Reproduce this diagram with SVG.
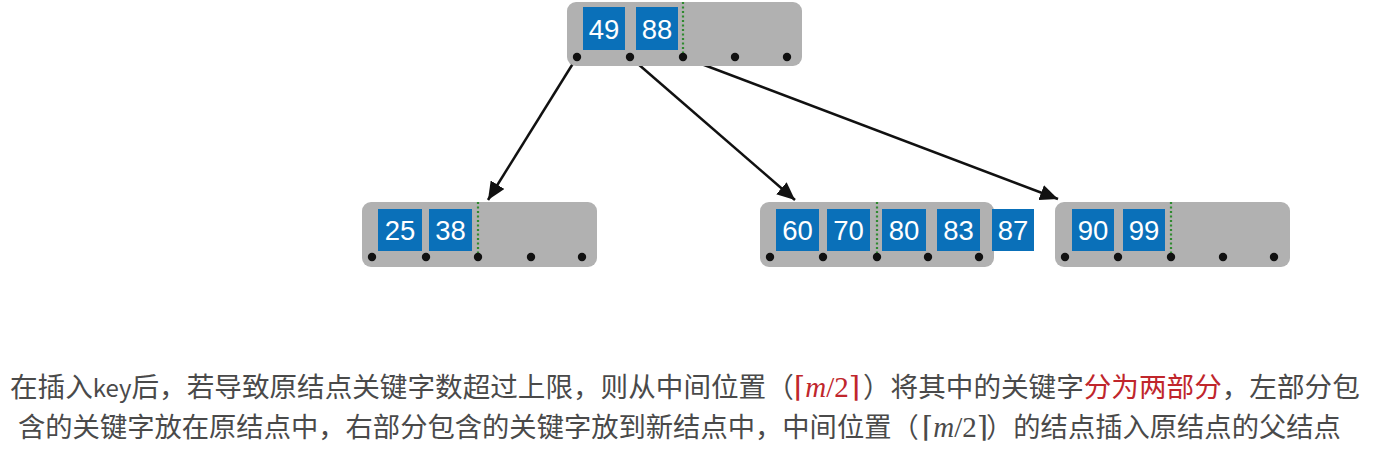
<svg xmlns="http://www.w3.org/2000/svg" width="1376" height="466" viewBox="0 0 1376 466">
<style>
.node{fill:#b1b1b1;}
.key{fill:#0a70b9;}
.num{font-family:"Liberation Sans",Arial,sans-serif;font-size:27.5px;fill:#ffffff;text-anchor:middle;}
.ptr{fill:#111;}
.split{stroke:#2f8a2f;stroke-width:2.2;stroke-dasharray:2 2.5;fill:none;}
.edge{stroke:#111;stroke-width:2.5;fill:none;}
.cap{font-family:"Noto Sans CJK SC","Noto Sans",sans-serif;font-size:27.6px;fill:#4a4a4a;}
.cap2{font-family:"Noto Sans CJK SC","Noto Sans",sans-serif;font-size:27.3px;fill:#4a4a4a;}
.red{fill:#c0262c;}
.math{font-family:"Liberation Serif","DejaVu Serif",serif;font-size:29px;}
</style>
<defs>
<marker id="ah" markerUnits="userSpaceOnUse" markerWidth="20" markerHeight="16" refX="18" refY="8" orient="auto">
<path d="M0,0 L18,8 L0,16 z" fill="#111"/>
</marker>
</defs>

<g id="connectors">
<line class="edge" x1="577" y1="57" x2="488" y2="200" marker-end="url(#ah)"/>
<line class="edge" x1="630" y1="57" x2="795" y2="200" marker-end="url(#ah)"/>
<line class="edge" x1="683" y1="57" x2="1058" y2="199" marker-end="url(#ah)"/>
</g>

<g id="node-root">
<rect class="node" x="567" y="2" width="235" height="64" rx="9"/>
<rect class="key" x="583" y="7" width="42" height="43"/>
<text class="num" x="604" y="39">49</text>
<rect class="key" x="636" y="7" width="42" height="43"/>
<text class="num" x="657" y="39">88</text>
<line class="split" x1="683" y1="2" x2="683" y2="57"/>
<circle class="ptr" cx="577" cy="57" r="4.2"/>
<circle class="ptr" cx="630" cy="57" r="4.2"/>
<circle class="ptr" cx="683" cy="57" r="4.2"/>
<circle class="ptr" cx="735" cy="57" r="4.2"/>
<circle class="ptr" cx="787" cy="57" r="4.2"/>
</g>

<g id="node-left">
<rect class="node" x="362" y="202" width="235" height="65" rx="9"/>
<rect class="key" x="378" y="209" width="44" height="42"/>
<text class="num" x="400" y="240">25</text>
<rect class="key" x="429" y="209" width="43" height="42"/>
<text class="num" x="450.5" y="240">38</text>
<line class="split" x1="478" y1="202" x2="478" y2="257"/>
<circle class="ptr" cx="372" cy="257" r="4.2"/>
<circle class="ptr" cx="426" cy="257" r="4.2"/>
<circle class="ptr" cx="478" cy="257" r="4.2"/>
<circle class="ptr" cx="531" cy="257" r="4.2"/>
<circle class="ptr" cx="582" cy="257" r="4.2"/>
</g>

<g id="node-middle">
<rect class="node" x="760" y="202" width="234" height="65" rx="9"/>
<rect class="key" x="776" y="209" width="43" height="42"/>
<text class="num" x="797.5" y="240">60</text>
<rect class="key" x="827" y="209" width="43" height="42"/>
<text class="num" x="848.5" y="240">70</text>
<line class="split" x1="877" y1="202" x2="877" y2="257"/>
<rect class="key" x="882" y="209" width="44" height="42"/>
<text class="num" x="904" y="240">80</text>
<rect class="key" x="937" y="209" width="43" height="42"/>
<text class="num" x="958.5" y="240">83</text>
<rect class="key" x="992" y="209" width="42" height="42"/>
<text class="num" x="1013" y="240">87</text>
<circle class="ptr" cx="770" cy="257" r="4.2"/>
<circle class="ptr" cx="823" cy="257" r="4.2"/>
<circle class="ptr" cx="877" cy="257" r="4.2"/>
<circle class="ptr" cx="928" cy="257" r="4.2"/>
<circle class="ptr" cx="979" cy="257" r="4.2"/>
</g>

<g id="node-right">
<rect class="node" x="1055" y="202" width="235" height="65" rx="9"/>
<rect class="key" x="1072" y="209" width="42" height="42"/>
<text class="num" x="1093" y="240">90</text>
<rect class="key" x="1123" y="209" width="42" height="42"/>
<text class="num" x="1144" y="240">99</text>
<line class="split" x1="1171" y1="202" x2="1171" y2="257"/>
<circle class="ptr" cx="1065" cy="257" r="4.2"/>
<circle class="ptr" cx="1118" cy="257" r="4.2"/>
<circle class="ptr" cx="1171" cy="257" r="4.2"/>
<circle class="ptr" cx="1223" cy="257" r="4.2"/>
<circle class="ptr" cx="1274" cy="257" r="4.2"/>
</g>

<g id="caption">
<text class="cap" x="10" y="397">在插入<tspan font-size="24">key</tspan>后，若导致原结点关键字数超过上限，则从中间位置（</text>
<text class="math red" x="794" y="397">⌈<tspan font-style="italic">m</tspan>/2⌉</text>
<text class="cap" x="863" y="397">）将其中的关键字<tspan class="red">分为两部分</tspan>，左部分包</text>

<text class="cap2" x="18" y="437">含的关键字放在原结点中，右部分包含的关键字放到新结点中，中间位置（</text>
<text class="math" x="922" y="437" fill="#4a4a4a">⌈<tspan font-style="italic">m</tspan>/2⌉</text>
<text class="cap2" x="986" y="437">）的结点插入原结点的父结点</text>
</g>
</svg>
